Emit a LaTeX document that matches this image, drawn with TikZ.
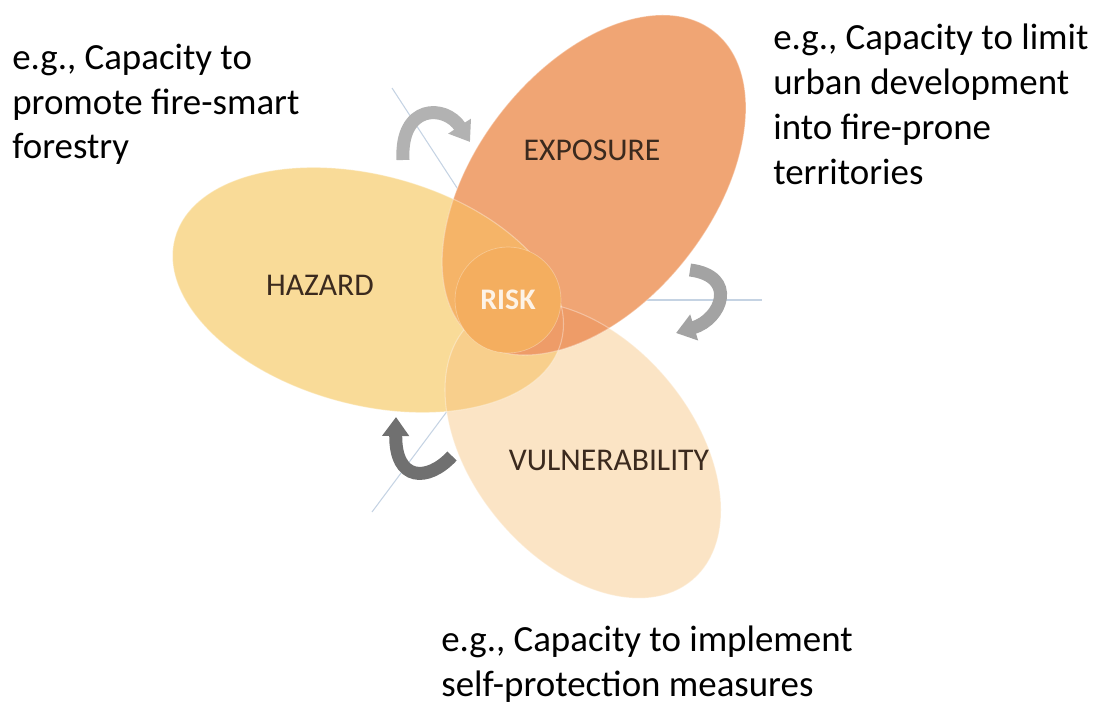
\documentclass[tikz,border=0pt]{standalone}
\usepackage{fontspec}
\setmainfont{Carlito}
\usepackage{xcolor}
\usetikzlibrary{arrows.meta}
\definecolor{hazard-col}{HTML}{F9DB98}
\definecolor{exposure-col}{HTML}{F0A574}
\definecolor{vuln-col}{HTML}{FBE4C5}
\definecolor{haz-exp-col}{HTML}{F5B468}
\definecolor{exp-vuln-col}{HTML}{EE9C68}
\definecolor{haz-vuln-col}{HTML}{F8CF8C}
\definecolor{risk-col}{HTML}{F4AE5F}
\definecolor{label-col}{HTML}{3B2A1E}
\definecolor{axis-col}{HTML}{C5D3E3}
\tikzset{
    hazard-frame/.style = {shift={(368,414)}, rotate=-15},
    exposure-frame/.style = {shift={(594,519)}, rotate=52},
    vuln-frame/.style = {shift={(583,254)}, rotate=-50},
    petal-edge/.style = {draw=white, draw opacity=0.35, line width=0.6pt},
    petal-label/.style = {text=label-col, font=\fontsize{18}{21}\selectfont},
    axis-line/.style = {draw=axis-col, line width=0.6pt},
    cycle-arrow/.style = {line width=0.26cm, -{Triangle[length=0.38cm, width=0.52cm]}},
    note/.style = {align=left, anchor=base west, inner sep=0pt, font=\fontsize{21}{25.5}\selectfont},
}

\begin{document}
\begin{tikzpicture}[x=0.02cm, y=0.02cm]
\useasboundingbox (0,0) rectangle (1097,704);

% axes behind the petals
\coordinate (hub) at (530,404);
\coordinate (axis-a) at (392,616);
\coordinate (axis-b) at (372,192);
\coordinate (axis-c) at (762,404);
\draw[axis-line] (hub) -- (axis-a);
\draw[axis-line] (hub) -- (axis-b);
\draw[axis-line] (hub) -- (axis-c);

% petals
\fill[vuln-col, vuln-frame] (0,0) ellipse [x radius=170, y radius=110];
\fill[hazard-col, hazard-frame] (0,0) ellipse [x radius=200, y radius=115];
\fill[exposure-col, exposure-frame] (0,0) ellipse [x radius=195, y radius=118];

\begin{scope}
    \clip[hazard-frame] (0,0) ellipse [x radius=200, y radius=115];
    \fill[haz-vuln-col, vuln-frame] (0,0) ellipse [x radius=170, y radius=110];
    \fill[haz-exp-col, exposure-frame] (0,0) ellipse [x radius=195, y radius=118];
\end{scope}
\begin{scope}
    \clip[vuln-frame] (0,0) ellipse [x radius=170, y radius=110];
    \fill[exp-vuln-col, exposure-frame] (0,0) ellipse [x radius=195, y radius=118];
\end{scope}

\draw[petal-edge, vuln-frame] (0,0) ellipse [x radius=170, y radius=110];
\draw[petal-edge, hazard-frame] (0,0) ellipse [x radius=200, y radius=115];
\draw[petal-edge, exposure-frame] (0,0) ellipse [x radius=195, y radius=118];

\node[circle, fill=risk-col, draw=white, draw opacity=0.3, minimum size=106*0.02cm] (risk) at (508,404) {};

\node[petal-label] (hazard) at (320,419) {HAZARD};
\node[petal-label] (exposure) at (592,554) {EXPOSURE};
\node[petal-label] (vuln) at (609,244) {VULNERABILITY};
\node[petal-label, text=white!85!risk-col, font=\fontsize{17}{20}\selectfont\bfseries] at (risk) {RISK};

% turning arrows
\coordinate (turn-a1) at (403,544);
\coordinate (turn-a2) at (470,562);
\coordinate (turn-b1) at (690,434);
\coordinate (turn-b2) at (676,371);
\coordinate (turn-c1) at (452,248);
\coordinate (turn-c2) at (396,287);
\draw[cycle-arrow, color=black!30] (turn-a1) .. controls (400,600) and (445,600) .. (turn-a2);
\draw[cycle-arrow, color=black!36] (turn-b1) .. controls (738,428) and (722,385) .. (turn-b2);
\draw[cycle-arrow, color=black!56] (turn-c1) .. controls (428,222) and (395,222) .. (turn-c2);

\node[note] (forest-note) at (12,545) {e.g., Capacity to\\promote fire-smart\\forestry};
\node[note] (urban-note) at (773,520) {e.g., Capacity to limit\\urban development\\into fire-prone\\territories};
\node[note] (self-note) at (441,8) {e.g., Capacity to implement\\self-protection measures};
\end{tikzpicture}
\end{document}
